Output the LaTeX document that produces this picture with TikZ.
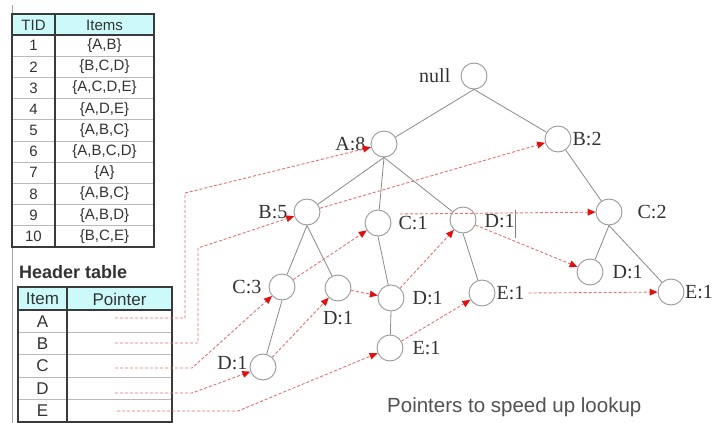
\documentclass[tikz,border=0pt]{standalone}
\usepackage{fontspec}
\setmainfont{Liberation Serif}
\newfontfamily\arialf{Liberation Sans}
\usetikzlibrary{arrows.meta}
\definecolor{txt}{HTML}{333333}
\definecolor{edgegray}{HTML}{8A8A8A}
\definecolor{circgray}{HTML}{999999}
\definecolor{hdr}{HTML}{CCFAFA}
\definecolor{ptr}{HTML}{E87070}
\definecolor{tipred}{HTML}{E01010}
\definecolor{tline}{HTML}{3A3A3A}
\tikzset{
  fpnode/.style={circle,draw=circgray,line width=0.9pt,minimum size=26pt,inner sep=0pt},
  lbl/.style={font=\fontsize{20}{22}\selectfont,text=txt,inner sep=0pt},
  treeedge/.style={draw=edgegray,line width=0.8pt},
  pointer/.style={draw=ptr,line width=0.9pt,dash pattern=on 3pt off 2pt,
     -{Triangle[length=8pt,width=7pt,color=tipred,fill=tipred,line width=0pt]}},
  tcell/.style={font=\arialf\fontsize{15}{17}\selectfont,text=txt,inner sep=0pt},
  hcell/.style={font=\arialf\fontsize{17}{19}\selectfont,text=txt,inner sep=0pt},
  tborder/.style={draw=tline,line width=1.3pt},
  rowline/.style={draw=gray!55,line width=0.7pt},
}
\begin{document}
\begin{tikzpicture}[x=1pt,y=-1pt]
\useasboundingbox (0,0) rectangle (713,423);
\fill[white] (0,0) rectangle (713,423);
% slide border line
\draw[draw=gray!70,line width=0.8pt] (12,5) -- (12,423);

% ---------- TID table ----------
\fill[hdr] (12,14) rectangle (154,35);
\foreach \i in {1,...,9} \draw[rowline] (12,{35+21.2*\i}) -- (154,{35+21.2*\i});
\draw[tborder] (12,14) rectangle (154,247);
\draw[tborder] (55,14) -- (55,247);
\draw[tborder] (12,35) -- (154,35);
\node[tcell] (tidh) at (33.5,25) {TID};
\node[tcell] (itemsh) at (104.5,25) {Items};
\foreach \t/\s [count=\i] in {1/{\{A,B\}},2/{\{B,C,D\}},3/{\{A,C,D,E\}},4/{\{A,D,E\}},5/{\{A,B,C\}},6/{\{A,B,C,D\}},7/{\{A\}},8/{\{A,B,C\}},9/{\{A,B,D\}},10/{\{B,C,E\}}}{
  \node[tcell] (tid\i) at (33.5,{35+21.2*(\i-0.5)}) {\t};
  \node[tcell] (set\i) at (104.5,{35+21.2*(\i-0.5)}) {\s};
}

% ---------- Header table ----------
\node[font=\arialf\bfseries\fontsize{18}{20}\selectfont,text=txt,inner sep=0pt,anchor=base west] (hdrtitle) at (19,278) {Header table};
\fill[hdr] (18,287) rectangle (172,310);
\foreach \i in {1,...,4} \draw[rowline] (18,{310+22.4*\i}) -- (172,{310+22.4*\i});
\draw[tborder] (18,287) rectangle (172,422);
\draw[tborder] (67,287) -- (67,422);
\draw[tborder] (18,310) -- (172,310);
\node[hcell] (itemh) at (42.5,299) {Item};
\node[hcell] (pointerh) at (119.5,299) {Pointer};
\foreach \l [count=\i] in {A,B,C,D,E}{
  \node[hcell] (hrow\i) at (42.5,{310+22.4*(\i-0.5)}) {\l};
}

% ---------- FP-tree nodes ----------
\node[fpnode,label={[lbl,label distance=10pt]left:null}] (nul) at (474,76) {};
\node[fpnode,label={[lbl,label distance=5pt]left:A:8}] (a8) at (384,144) {};
\node[fpnode,label={[lbl,label distance=1pt]right:B:2}] (b2) at (558,139) {};
\node[fpnode,label={[lbl,label distance=6pt]left:B:5}] (b5) at (307,212) {};
\node[fpnode,label={[lbl,label distance=7pt]right:C:1}] (c1) at (378,223) {};
\node[fpnode,label={[lbl,label distance=8pt,yshift=-1pt]right:D:1}] (da) at (463,220) {};
\node[fpnode,label={[lbl,label distance=15pt]right:C:2}] (c2) at (609,212) {};
\node[fpnode,label={[lbl,label distance=7pt]left:C:3}] (c3) at (282,287) {};
\node[fpnode,label={[lbl,label distance=10pt]below:D:1}] (db) at (338,288) {};
\node[fpnode,label={[lbl,label distance=8pt]right:D:1}] (dc) at (391,298) {};
\node[fpnode,label={[lbl,label distance=1pt,name=eal]right:E:1}] (ea) at (482,293) {};
\node[fpnode,label={[lbl,label distance=9pt]right:D:1}] (dtwo) at (590,272) {};
\node[fpnode,label={[lbl,label distance=0.5pt]right:E:1}] (etwo) at (671,292) {};
\node[fpnode,label={[lbl,label distance=2pt,yshift=4pt]left:D:1}] (dthree) at (263,367) {};
\node[fpnode,label={[lbl,label distance=9pt]right:E:1}] (ec) at (390,348) {};
% cursor bar
\draw[draw=gray,line width=0.7pt] (515,210) -- (515,238);

% ---------- tree edges ----------
\draw[treeedge] (nul.south) -- (a8);
\draw[treeedge] (nul.south) -- (b2);
\draw[treeedge] (a8.south) -- (b5);
\draw[treeedge] (a8.south) -- (c1);
\draw[treeedge] (a8.south) -- (da);
\draw[treeedge] (b5.south) -- (c3);
\draw[treeedge] (b5.south) -- (db);
\draw[treeedge] (c3.south) -- (dthree);
\draw[treeedge] (c1.south) -- (dc);
\draw[treeedge] (dc.south) -- (ec);
\draw[treeedge] (da.south) -- (ea);
\draw[treeedge] (b2) -- (c2);
\draw[treeedge] (c2.south) -- (dtwo);
\draw[treeedge] (c2.south) -- (etwo);

% ---------- node-link pointers ----------
\coordinate (pa) at (115,318);
\coordinate (pb) at (115,343);
\coordinate (pc) at (115,368);
\coordinate (pd) at (115,393);
\coordinate (pe) at (117,411);
\coordinate (pa1) at (185,318);
\coordinate (pa2) at (185,193);
\coordinate (pb1) at (198,343);
\coordinate (pb2) at (198,248);
\coordinate (pc1) at (192,368);
\coordinate (pd1) at (192,393);
\coordinate (pe1) at (238,411);
\coordinate (ceast) at (400,214);
\draw[pointer] (pa) -- (pa1) -- (pa2) -- (a8);
\draw[pointer] (pb) -- (pb1) -- (pb2) -- (b5);
\draw[pointer] (b5) -- (b2);
\draw[pointer] (pc) -- (pc1) -- (c3);
\draw[pointer] (c3) -- (c1);
\draw[pointer] (ceast) -- (c2);
\draw[pointer] (pd) -- (pd1) -- (dthree);
\draw[pointer] (dthree) -- (db);
\draw[pointer] (db) -- (dc);
\draw[pointer] (dc) -- (da);
\draw[pointer] (da) -- (dtwo);
\draw[pointer] (pe) -- (pe1) -- (ec);
\draw[pointer] (ec) -- (ea);
\draw[pointer] ([xshift=4pt]eal.east) -- (etwo);

% ---------- caption ----------
\node[font=\arialf\fontsize{20.5}{22}\selectfont,text=txt!85!white,inner sep=0pt,anchor=base west] (cap) at (387,412) {Pointers to speed up lookup};
\end{tikzpicture}
\end{document}
